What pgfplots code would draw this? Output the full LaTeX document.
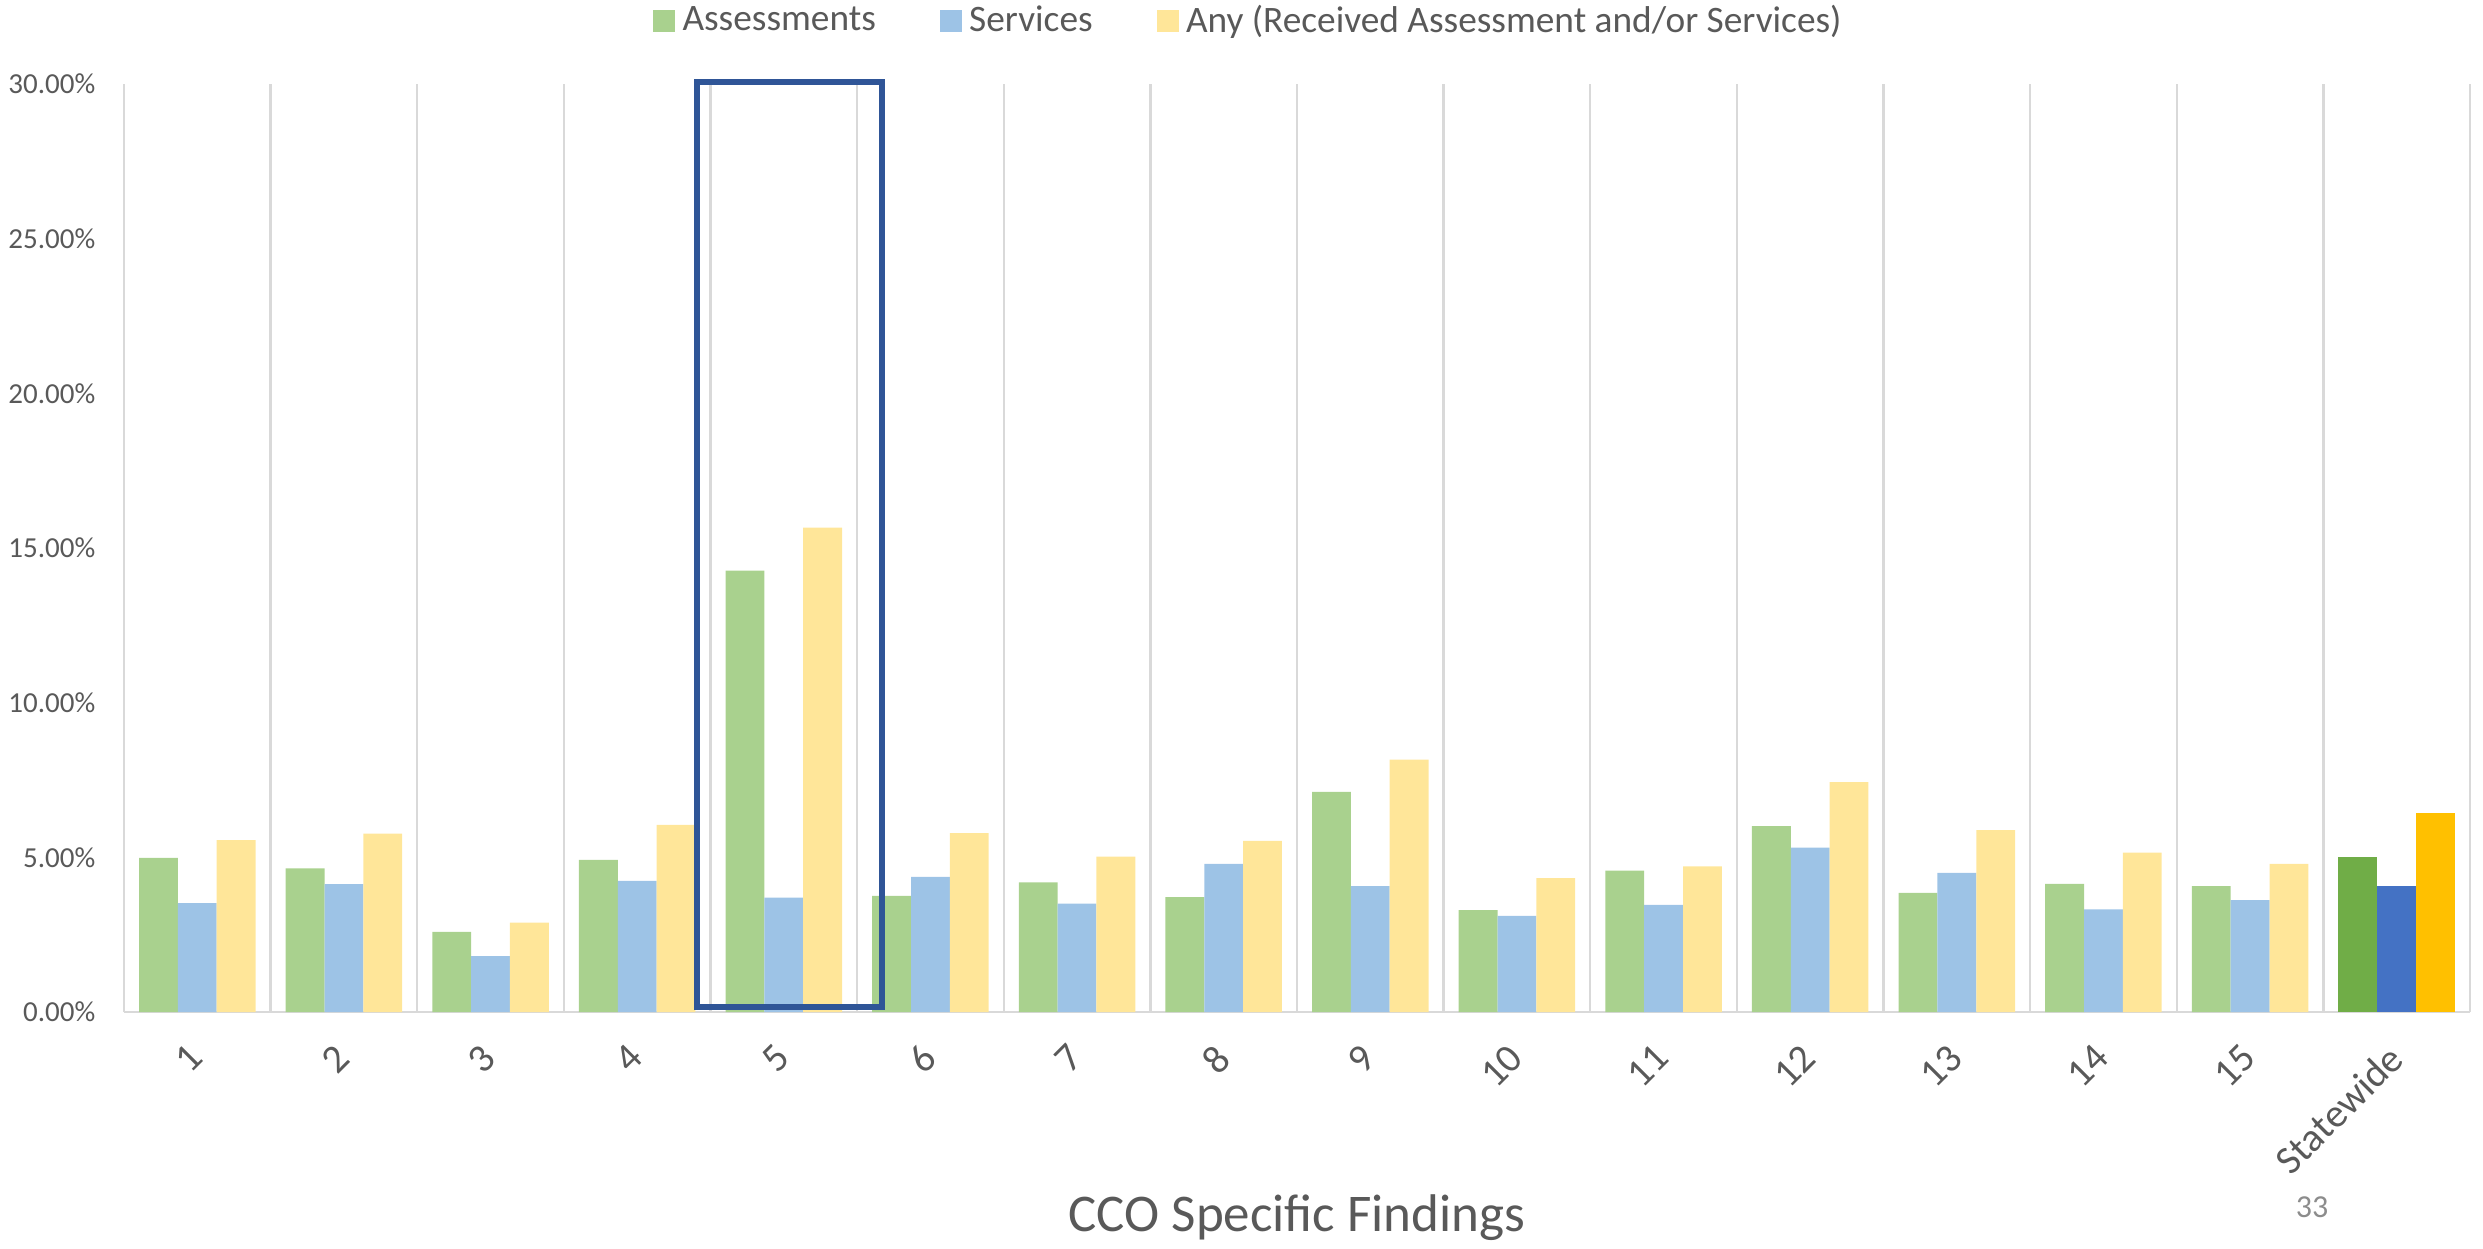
\documentclass[border=0pt]{standalone}
\usepackage{pgfplots}
\pgfplotsset{compat=1.18}
\usepackage{fontspec}
\setmainfont{Carlito}

\definecolor{lgreen}{HTML}{A9D18E}
\definecolor{lblue}{HTML}{9DC3E6}
\definecolor{lyellow}{HTML}{FFE699}
\definecolor{dgreen}{HTML}{70AD47}
\definecolor{dblue}{HTML}{4472C4}
\definecolor{dyellow}{HTML}{FFC000}
\definecolor{boxblue}{HTML}{2F5597}
\definecolor{gridgray}{HTML}{D9D9D9}
\definecolor{txtgray}{HTML}{595959}
\definecolor{pagegray}{HTML}{8C8C8C}

% CCO-level rates (percent); index 0..14 = CCO 1..15
\pgfplotstableread{
x  assess services any
0  4.98  3.52  5.56
1  4.64  4.13  5.77
2  2.59  1.81  2.89
3  4.92  4.24  6.05
4  14.27 3.70  15.66
5  3.75  4.37  5.78
6  4.19  3.50  5.02
7  3.71  4.79  5.53
8  7.12  4.07  8.16
9  3.29  3.11  4.33
10 4.57  3.46  4.71
11 6.01  5.31  7.43
12 3.85  4.50  5.88
13 4.14  3.32  5.15
14 4.07  3.62  4.79
}\ccodata

% Statewide rates (percent)
\pgfplotstableread{
x  assess services any
15 5.02  4.08  6.44
}\statedata

\begin{document}
\begin{tikzpicture}
\path[use as bounding box] (-37.2pt,-71.1pt) rectangle (707.7pt,303.6pt);
\begin{axis}[
  at={(0,0)}, anchor=south west,
  scale only axis,
  width=703.8pt, height=278.4pt,
  ybar, bar width=0.265,
  xmin=-0.5, xmax=15.5,
  ymin=0, ymax=30,
  clip=false,
  axis x line*=bottom, axis y line*=left,
  axis line style={draw=gridgray, line width=0.7pt},
  major tick length=0pt, minor tick length=0pt,
  xtick={0,...,15},
  xticklabels={1,2,3,4,5,6,7,8,9,10,11,12,13,14,15,Statewide},
  minor xtick={-0.5,0.5,...,15.5},
  xminorgrids=true,
  minor x grid style={draw=gridgray, line width=0.7pt},
  ytick={0,5,...,30},
  yticklabel={\pgfmathprintnumber[fixed,fixed zerofill,precision=2]{\tick}\%},
  /pgf/number format/assume math mode=true,
  yticklabel style={font=\fontsize{8.7pt}{10pt}\selectfont, text=txtgray,
    anchor=east, inner sep=0pt, xshift=-8.4pt},
  xticklabel style={font=\fontsize{12pt}{14pt}\selectfont, text=txtgray,
    rotate=45, anchor=north east, inner sep=0pt, yshift=-4pt, xshift=-8.5pt},
  xlabel={CCO Specific Findings},
  x label style={at={(axis description cs:0.5,-0.222)}, anchor=center,
    font=\fontsize{15.9pt}{18pt}\selectfont, text=txtgray},
  legend columns=3,
  legend style={at={(0.4804,1.0679)}, anchor=center, draw=none, fill=none,
    font=\fontsize{11.2pt}{13pt}\selectfont, text=txtgray,
    /tikz/every even column/.append style={column sep=17pt},
    nodes={inner sep=2.2pt}},
  legend image code/.code={\fill[#1] (0pt,-3.3pt) rectangle (6.6pt,3.3pt);},
]
\addplot[fill=lgreen, draw=none, bar shift=-0.265] table[x=x, y=assess] {\ccodata};
\addplot[fill=lblue, draw=none, bar shift=0] table[x=x, y=services] {\ccodata};
\addplot[fill=lyellow, draw=none, bar shift=0.265] table[x=x, y=any] {\ccodata};
\addplot[fill=dgreen, draw=none, bar shift=-0.265, forget plot] table[x=x, y=assess] {\statedata};
\addplot[fill=dblue, draw=none, bar shift=0, forget plot] table[x=x, y=services] {\statedata};
\addplot[fill=dyellow, draw=none, bar shift=0.265, forget plot] table[x=x, y=any] {\statedata};
\legend{Assessments, Services, Any (Received Assessment and/or Services)}

% highlight around CCO 5
\draw[boxblue, line width=1.9pt] (axis cs:3.409,0.16) rectangle (axis cs:4.671,30.07);

\node[font=\fontsize{9.6pt}{11pt}\selectfont, text=pagegray]
  at (axis description cs:0.9327,-0.2101) {33};
\end{axis}
\end{tikzpicture}
\end{document}
